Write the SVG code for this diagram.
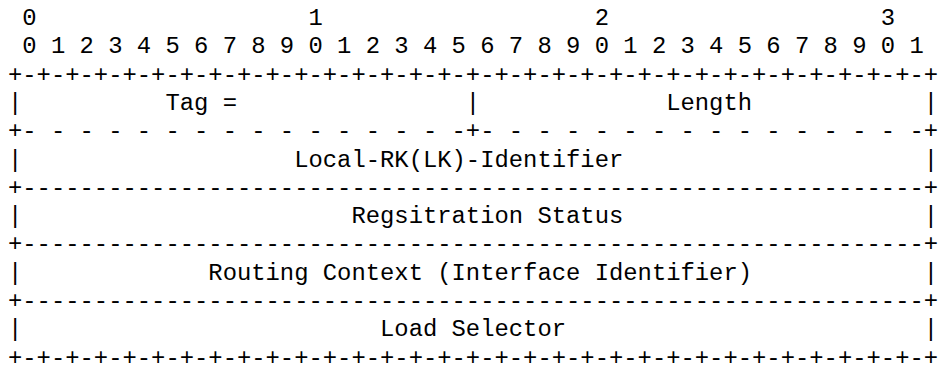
<svg xmlns="http://www.w3.org/2000/svg" width="939" height="371" viewBox="0 0 939 371">
<style>
text{font-family:"Liberation Mono","DejaVu Sans Mono",monospace;font-size:23.85px;fill:#000;white-space:pre}
</style>
<rect width="939" height="371" fill="#fff"/>
<g id="ruler">
<text x="8" y="25" xml:space="preserve"> 0                   1                   2                   3</text>
<text x="8" y="53.3" xml:space="preserve"> 0 1 2 3 4 5 6 7 8 9 0 1 2 3 4 5 6 7 8 9 0 1 2 3 4 5 6 7 8 9 0 1</text>
</g>
<g id="connectors">
<text x="8" y="81.6" xml:space="preserve">+-+-+-+-+-+-+-+-+-+-+-+-+-+-+-+-+-+-+-+-+-+-+-+-+-+-+-+-+-+-+-+-+</text>
<text x="8" y="138.2" xml:space="preserve">+- - - - - - - - - - - - - - - -+- - - - - - - - - - - - - - - -+</text>
<text x="8" y="194.8" xml:space="preserve">+---------------------------------------------------------------+</text>
<text x="8" y="251.4" xml:space="preserve">+---------------------------------------------------------------+</text>
<text x="8" y="308" xml:space="preserve">+---------------------------------------------------------------+</text>
<text x="8" y="364.6" xml:space="preserve">+-+-+-+-+-+-+-+-+-+-+-+-+-+-+-+-+-+-+-+-+-+-+-+-+-+-+-+-+-+-+-+-+</text>
</g>
<g id="tag-length">
<text x="8" y="109.9" xml:space="preserve">|          Tag =                |             Length            |</text>
</g>
<g id="local-rk">
<text x="8" y="166.5" xml:space="preserve">|                   Local-RK(LK)-Identifier                     |</text>
</g>
<g id="status">
<text x="8" y="223.1" xml:space="preserve">|                       Regsitration Status                     |</text>
</g>
<g id="routing">
<text x="8" y="279.7" xml:space="preserve">|             Routing Context (Interface Identifier)            |</text>
</g>
<g id="load">
<text x="8" y="336.3" xml:space="preserve">|                         Load Selector                         |</text>
</g>
</svg>
